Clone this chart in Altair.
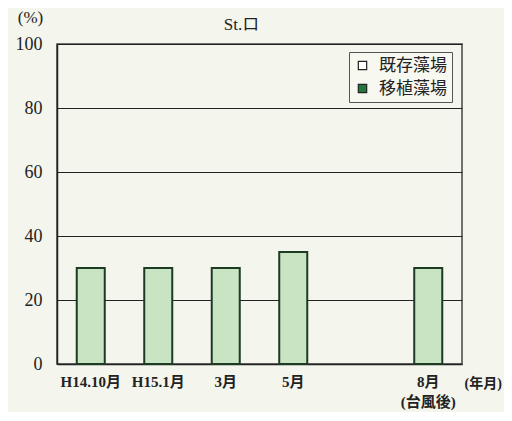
import altair as alt
import pandas as pd

categories = ["H14.10月", "H15.1月", "3月", "5月", "", "8月"]
values = [30, 30, 30, 35, None, 30]
legend_items = ["既存藻場", "移植藻場"]
legend_colors = ["#ffffff", "#1f7a3c"]
y_ticks = [0, 20, 40, 60, 80, 100]

df = pd.DataFrame({"month": categories, "value": values}).dropna()
leg = pd.DataFrame({"kind": legend_items})

SERIF = "Liberation Serif, Noto Sans CJK JP"
CJK = "Noto Sans CJK JP"

x_enc = alt.X(
    "month:N",
    sort=categories,
    scale=alt.Scale(domain=categories, paddingInner=0.585, paddingOuter=0.2925),
    axis=alt.Axis(
        title="(年月)",
        labelAngle=0,
        labelExpr="datum.value == '8月' ? ['8月', '(台風後)'] : datum.value",
        labelFont=SERIF,
        labelFontSize=15,
        labelFontWeight="bold",
        labelColor="#222",
        labelLineHeight=20,
        labelBaseline="top",
        labelPadding=10,
        ticks=False,
        domainColor="#222",
        domainWidth=1.5,
        grid=False,
        titleFont=SERIF,
        titleFontSize=14,
        titleFontWeight="bold",
        titleColor="#222",
        titleX=407,
        titleY=19,
        titleAlign="left",
        titleBaseline="middle",
        titleAnchor="start",
    ),
)

y_enc = alt.Y(
    "value:Q",
    scale=alt.Scale(domain=[0, 100]),
    axis=alt.Axis(
        values=y_ticks,
        title="(%)",
        titleAngle=0,
        titleX=-27,
        titleY=-27,
        titleAlign="center",
        titleBaseline="middle",
        titleFont=SERIF,
        titleFontSize=17,
        titleFontWeight="normal",
        titleColor="#222",
        labelFont=SERIF,
        labelFontSize=18,
        labelColor="#222",
        labelPadding=15,
        ticks=False,
        domainColor="#222",
        domainWidth=1.5,
        grid=True,
        gridColor="#222",
        gridWidth=1,
    ),
)

bars = alt.Chart(df).mark_bar(
    fill="#c8e4c3", stroke="#1d3b24", strokeWidth=2
).encode(x=x_enc, y=y_enc)

legend_layer = alt.Chart(leg).mark_square(opacity=0).encode(
    x=alt.value(0),
    y=alt.value(0),
    fill=alt.Fill(
        "kind:N",
        sort=legend_items,
        scale=alt.Scale(domain=legend_items, range=legend_colors),
        legend=alt.Legend(
            title=None,
            orient="none",
            legendX=292,
            legendY=8,
            strokeColor="#555",
            fillColor="#f7f8f0",
            padding=5,
            symbolType="square",
            symbolSize=70,
            symbolStrokeColor="#222",
            symbolStrokeWidth=1.2,
            symbolOpacity=1,
            labelFont=CJK,
            labelFontSize=17,
            labelColor="#222",
            labelOffset=8,
            rowPadding=5,
        ),
    ),
)

chart = (
    alt.layer(bars, legend_layer)
    .properties(
        width=405,
        height=320,
        title=alt.TitleParams(
            "St.ロ", font=SERIF, fontSize=17, fontWeight="normal",
            color="#222", dx=-18, dy=30, offset=4,
        ),
        background="#f4f5ec",
        padding={"left": 49, "top": 36, "right": 42, "bottom": 48},
        autosize=alt.AutoSizeParams(type="none"),
    )
    .configure_view(stroke="#444", strokeWidth=1.5)
)

chart.save("out.html", embed_options={"renderer": "svg", "actions": False})
